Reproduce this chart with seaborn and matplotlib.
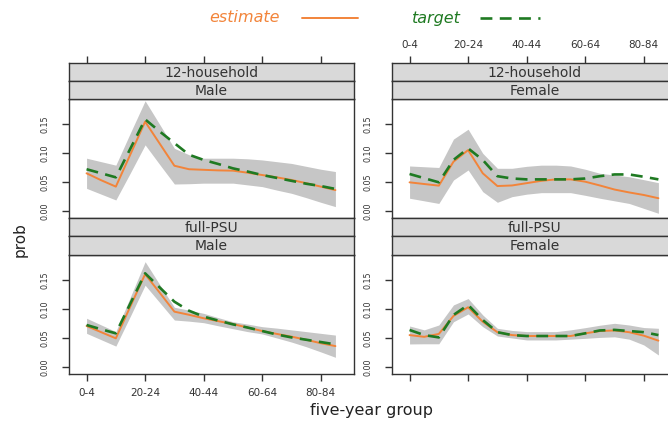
import numpy as np
import pandas as pd
import matplotlib
matplotlib.use("Agg")
import matplotlib.pyplot as plt
from matplotlib.lines import Line2D
import seaborn as sns

# ---------------- data ----------------
age_groups = ["0-4", "5-9", "10-14", "15-19", "20-24", "25-29", "30-34", "35-39",
              "40-44", "45-49", "50-54", "55-59", "60-64", "65-69", "70-74",
              "75-79", "80-84", "85+"]
tick_groups = ["0-4", "20-24", "40-44", "60-64", "80-84"]

# 12-household, Male
hh_male_est = [0.065, 0.053, 0.042, 0.098, 0.154, 0.116, 0.078, 0.072, 0.071, 0.070,
               0.0695, 0.066, 0.062, 0.058, 0.0535, 0.048, 0.042, 0.036]
hh_male_tgt = [0.072, 0.065, 0.058, 0.108, 0.158, 0.137, 0.117, 0.097, 0.088, 0.081,
               0.0735, 0.068, 0.062, 0.057, 0.052, 0.047, 0.043, 0.038]
hh_male_lo = [0.039, 0.029, 0.019, 0.066, 0.114, 0.080, 0.0465, 0.047, 0.048, 0.048,
              0.048, 0.045, 0.042, 0.036, 0.0305, 0.023, 0.015, 0.0075]
hh_male_hi = [0.091, 0.085, 0.079, 0.135, 0.190, 0.149, 0.108, 0.097, 0.091, 0.091,
              0.091, 0.090, 0.088, 0.085, 0.082, 0.077, 0.072, 0.068]

# 12-household, Female
hh_female_est = [0.0494, 0.0465, 0.0437, 0.085, 0.105, 0.065, 0.043, 0.044, 0.048, 0.052,
                 0.0545, 0.0545, 0.0505, 0.044, 0.037, 0.032, 0.0276, 0.022]
hh_female_tgt = [0.0638, 0.0566, 0.0494, 0.088, 0.108, 0.088, 0.060, 0.056, 0.0545, 0.0545,
                 0.0545, 0.0545, 0.056, 0.060, 0.063, 0.063, 0.059, 0.0545]
hh_female_lo = [0.022, 0.0175, 0.013, 0.0534, 0.0707, 0.0333, 0.015, 0.0247, 0.029, 0.0316,
                0.0316, 0.0316, 0.027, 0.022, 0.0175, 0.013, 0.0045, -0.004]
hh_female_hi = [0.0776, 0.0763, 0.075, 0.124, 0.141, 0.0994, 0.0736, 0.0736, 0.077, 0.079,
                0.079, 0.0776, 0.072, 0.065, 0.062, 0.059, 0.054, 0.0488]

# full-PSU, Male
psu_male_est = [0.0707, 0.060, 0.0494, 0.105, 0.160, 0.128, 0.0954, 0.090, 0.084, 0.079,
                0.074, 0.068, 0.062, 0.057, 0.0523, 0.047, 0.041, 0.036]
psu_male_tgt = [0.0724, 0.065, 0.058, 0.110, 0.1615, 0.137, 0.1126, 0.097, 0.0868, 0.080,
                0.0735, 0.068, 0.062, 0.056, 0.051, 0.047, 0.043, 0.039]
psu_male_lo = [0.058, 0.047, 0.036, 0.088, 0.141, 0.111, 0.081, 0.079, 0.0764, 0.071,
               0.066, 0.061, 0.057, 0.050, 0.043, 0.035, 0.026, 0.0167]
psu_male_hi = [0.084, 0.0725, 0.061, 0.121, 0.1816, 0.142, 0.103, 0.098, 0.0925, 0.085,
               0.078, 0.074, 0.0695, 0.067, 0.064, 0.061, 0.058, 0.055]

# full-PSU, Female
psu_female_est = [0.055, 0.052, 0.057, 0.088, 0.103, 0.078, 0.060, 0.055, 0.0534, 0.0534,
                  0.0534, 0.0534, 0.058, 0.062, 0.063, 0.060, 0.054, 0.0454]
psu_female_tgt = [0.0638, 0.055, 0.051, 0.0897, 0.107, 0.081, 0.060, 0.055, 0.0534, 0.0534,
                  0.0534, 0.0534, 0.058, 0.063, 0.064, 0.062, 0.060, 0.055]
psu_female_lo = [0.0397, 0.040, 0.040, 0.078, 0.0914, 0.0695, 0.0534, 0.050, 0.0466, 0.0466,
                 0.0466, 0.048, 0.0494, 0.051, 0.052, 0.048, 0.038, 0.0207]
psu_female_hi = [0.0707, 0.064, 0.0724, 0.107, 0.118, 0.0897, 0.0667, 0.063, 0.061, 0.061,
                 0.061, 0.064, 0.0678, 0.072, 0.0753, 0.0724, 0.068, 0.0667]

y_ticks = [0.00, 0.05, 0.10, 0.15]
y_tick_labels = ["0.00", "0.05", "0.10", "0.15"]

panels = [
    # (design, sex, est, tgt, lo, hi)
    ("12-household", "Male", hh_male_est, hh_male_tgt, hh_male_lo, hh_male_hi),
    ("12-household", "Female", hh_female_est, hh_female_tgt, hh_female_lo, hh_female_hi),
    ("full-PSU", "Male", psu_male_est, psu_male_tgt, psu_male_lo, psu_male_hi),
    ("full-PSU", "Female", psu_female_est, psu_female_tgt, psu_female_lo, psu_female_hi),
]

# ---------------- style ----------------
sns.set_style("white")
plt.rcParams["font.family"] = ["DejaVu Sans"]

ORANGE = "#F2843A"
GREEN = "#1F7A22"
BAND = "#C6C6C6"
STRIP = "#D9D9D9"
FRAME = "#333333"
TXT = "#333333"

W, H = 668, 424
fig = plt.figure(figsize=(W / 100, H / 100), dpi=100)


def rect(x0, y0, x1, y1):
    return [x0 / W, 1 - y1 / H, (x1 - x0) / W, (y1 - y0) / H]


cols = [(69, 354), (392, 677)]
rows = [  # strip1, strip2, plot
    ((63, 81), (81, 99), (99, 218)),
    ((218, 236.5), (236.5, 255), (255, 374)),
]
XLIM = (-1.2, 18.27)
YLIM = (-0.0121, 0.1931)
x_idx = np.arange(len(age_groups))
tick_pos = [age_groups.index(t) for t in tick_groups]


def frame(ax):
    for s in ax.spines.values():
        s.set_visible(True)
        s.set_color(FRAME)
        s.set_linewidth(1.0)


for k, (design, sex, est, tgt, lo, hi) in enumerate(panels):
    r, c = divmod(k, 2)
    x0, x1 = cols[c]
    (s1a, s1b), (s2a, s2b), (pa, pb) = rows[r]

    ax = fig.add_axes(rect(x0, pa, x1, pb))
    df = pd.DataFrame({"group": x_idx, "estimate": est, "target": tgt})
    ax.fill_between(x_idx, lo, hi, color=BAND, linewidth=0, zorder=1)
    sns.lineplot(data=df, x="group", y="target", ax=ax, color=GREEN, lw=1.9,
                 linestyle=(0, (4.5, 2.8)), errorbar=None, zorder=3)
    sns.lineplot(data=df, x="group", y="estimate", ax=ax, color=ORANGE, lw=1.4,
                 errorbar=None, zorder=2)
    ax.set_xlim(*XLIM)
    ax.set_ylim(*YLIM)
    ax.set_xlabel("")
    ax.set_ylabel("")
    frame(ax)
    ax.set_yticks(y_ticks)
    ax.set_yticklabels(y_tick_labels)
    ax.tick_params(axis="y", left=True, right=False, length=5, width=1, color=FRAME,
                   labelsize=5.8, labelcolor=TXT, pad=9, labelrotation=90)
    for lab in ax.get_yticklabels():
        lab.set_va("center")
    if r == 1:
        ax.set_xticks(tick_pos)
        ax.set_xticklabels(tick_groups if c == 0 else [""] * len(tick_groups))
        ax.tick_params(axis="x", bottom=True, top=False, length=5, width=1, color=FRAME,
                       labelsize=7.5, labelcolor=TXT, pad=5)
    else:
        ax.set_xticks([])

    for (ya, yb), text in (((s1a, s1b), design), ((s2a, s2b), sex)):
        sax = fig.add_axes(rect(x0, ya, x1, yb))
        sax.set_facecolor(STRIP)
        sax.set_xlim(*XLIM)
        sax.set_yticks([])
        frame(sax)
        sax.text(0.5, 0.47, text, transform=sax.transAxes, ha="center", va="center",
                 fontsize=10, color=TXT)
        if r == 0 and text == design:
            sax.set_xticks(tick_pos)
            sax.set_xticklabels(tick_groups if c == 1 else [""] * len(tick_groups))
            sax.tick_params(axis="x", bottom=False, top=True, labelbottom=False,
                            labeltop=True, length=5, width=1, color=FRAME,
                            labelsize=7.5, labelcolor=TXT, pad=4)
        else:
            sax.set_xticks([])

# axis labels
fig.text(20 / W, 1 - 240 / H, "prob", rotation=90, ha="center", va="center",
         fontsize=11, color="#222222")
fig.text(371 / W, 1 - 411 / H, "five-year group", ha="center", va="center",
         fontsize=11.5, color="#222222")

# legend on top
ly = 1 - 18 / H
fig.text(245 / W, ly, "estimate", style="italic", color=ORANGE, ha="center",
         va="center", fontsize=11.5)
fig.add_artist(Line2D([302 / W, 358 / W], [ly, ly], color=ORANGE, lw=1.4,
                      transform=fig.transFigure))
fig.text(436 / W, ly, "target", style="italic", color=GREEN, ha="center",
         va="center", fontsize=11.5)
fig.add_artist(Line2D([480 / W, 540 / W], [ly, ly], color=GREEN, lw=1.9,
                      linestyle=(0, (4.5, 2.8)), transform=fig.transFigure))

fig.savefig("out.png", dpi=100)
